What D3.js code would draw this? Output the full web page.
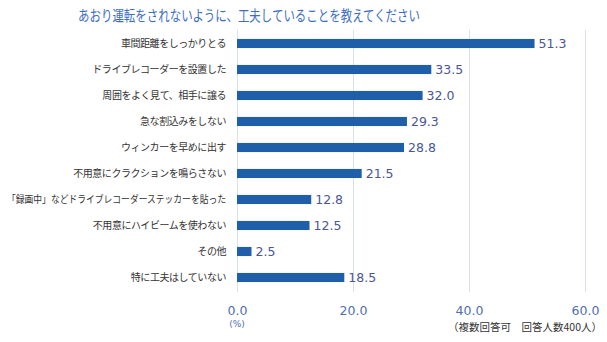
<!DOCTYPE html>
<html><head><meta charset="utf-8">
<script src="https://cdn.jsdelivr.net/npm/d3@7"></script>
<style>
html,body{margin:0;padding:0;background:#fff;}
svg{display:block;}
</style></head>
<body>
<script>
const title = "あおり運転をされないように、工夫していることを教えてください";
const categories = [
  "車間距離をしっかりとる",
  "ドライブレコーダーを設置した",
  "周囲をよく見て、相手に譲る",
  "急な割込みをしない",
  "ウィンカーを早めに出す",
  "不用意にクラクションを鳴らさない",
  "「録画中」などドライブレコーダーステッカーを貼った",
  "不用意にハイビームを使わない",
  "その他",
  "特に工夫はしていない"
];
const values = [51.3, 33.5, 32.0, 29.3, 28.8, 21.5, 12.8, 12.5, 2.5, 18.5];
const ticks = [0, 20, 40, 60];
const unitLabel = "(%)";
const note = "（複数回答可　回答人数400人）";

const W = 607, H = 342;
const svg = d3.select("body").append("svg").attr("width", W).attr("height", H);
const jp = "'Noto Sans CJK JP', 'Noto Sans', sans-serif";
const num = "'DejaVu Sans', Verdana, sans-serif";

const x = d3.scaleLinear().domain([0, 60]).range([237, 585]);
const y = d3.scaleBand().domain(categories).range([30.5, 290.5]).paddingInner(0.65).paddingOuter(0.325);

// title
svg.append("text").attr("x", 78).attr("y", 21)
  .attr("font-family", jp).attr("font-size", 15).attr("fill", "#3E6EC1")
  .attr("textLength", 342).attr("lengthAdjust", "spacingAndGlyphs")
  .text(title);

// gridlines
const xAxis = d3.axisBottom(x).tickValues(ticks).tickSize(-(292 - 30)).tickFormat(d => d3.format(".1f")(d));
const gx = svg.append("g").attr("transform", "translate(0,292)").call(xAxis);
gx.select(".domain").remove();
gx.selectAll(".tick line").attr("stroke", "#D9E1EE").attr("stroke-width", 1);
gx.selectAll(".tick text").attr("y", 14).attr("dy", "0.71em")
  .attr("font-family", num).attr("font-size", 12.5).attr("fill", "#4F6FB8");

// category labels
const maxLabelW = 219;
svg.append("g").selectAll("text").data(categories).join("text")
  .attr("x", 226).attr("y", d => y(d) + y.bandwidth() / 2).attr("dy", "0.35em")
  .attr("text-anchor", "end").attr("font-family", jp).attr("font-size", 10)
  .attr("fill", "#333")
  .attr("letter-spacing", "-0.45px")
  .text(d => d)
  .each(function () {
    const w = this.getComputedTextLength();
    if (w > maxLabelW) {
      d3.select(this).attr("letter-spacing", null)
        .attr("textLength", maxLabelW).attr("lengthAdjust", "spacingAndGlyphs");
    }
  });

// bars
svg.append("g").selectAll("rect").data(values).join("rect")
  .attr("x", x(0)).attr("y", (d, i) => y(categories[i]))
  .attr("width", d => x(d) - x(0)).attr("height", y.bandwidth())
  .attr("fill", "#1F5FAA");

// value labels
svg.append("g").selectAll("text").data(values).join("text")
  .attr("x", d => x(d) + 4).attr("y", (d, i) => y(categories[i]) + y.bandwidth() / 2).attr("dy", "0.36em")
  .attr("font-family", num).attr("font-size", 12.5).attr("fill", "#4A5696")
  .text(d => d3.format(".1f")(d));

// unit & note
svg.append("text").attr("x", 237).attr("y", 327).attr("text-anchor", "middle")
  .attr("font-family", num).attr("font-size", 9).attr("fill", "#4F6FB8").text(unitLabel);
svg.append("text").attr("x", 602).attr("y", 331).attr("text-anchor", "end")
  .attr("font-family", jp).attr("font-size", 10.5).attr("fill", "#333").text(note);
</script>
</body></html>
